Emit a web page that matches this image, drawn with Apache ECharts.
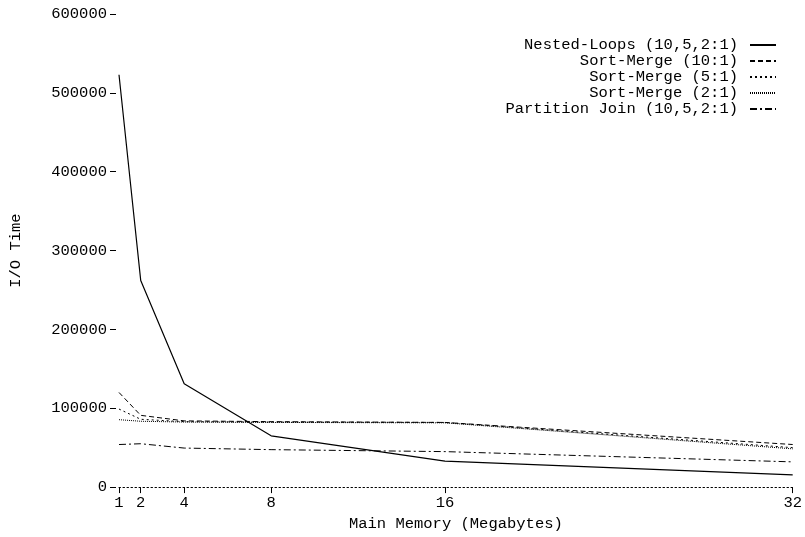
<!DOCTYPE html>
<html>
<head>
<meta charset="utf-8">
<script src="https://cdn.jsdelivr.net/npm/echarts@6/dist/echarts.min.js"></script>
<style>html,body{margin:0;padding:0;background:#fff;}#c{width:805px;height:537px;}</style>
</head>
<body>
<div id="c"></div>
<script>
const memory = [1, 2, 4, 8, 16, 32];
const xTicks = [1, 2, 4, 8, 16, 32];
const seriesNames = ['Nested-Loops (10,5,2:1)', 'Sort-Merge (10:1)', 'Sort-Merge (5:1)', 'Sort-Merge (2:1)', 'Partition Join (10,5,2:1)'];
const nestedLoops = [523000, 262000, 131000, 65000, 33000, 15500];
const sortMerge10 = [120000, 91000, 84000, 83000, 82000, 54000];
const sortMerge5 = [99000, 86000, 83000, 82500, 82000, 50000];
const sortMerge2 = [85500, 83500, 82500, 82000, 81500, 48500];
const partitionJoin = [54000, 55000, 49500, 47500, 45000, 32000];

const values = [nestedLoops, sortMerge10, sortMerge5, sortMerge2, partitionJoin];
const dashes = ['solid', [5, 3], [2, 3], [1, 1], [7, 3, 2, 3]];
const widths = [1.2, 1, 1, 1, 1];
const FONT = 'Liberation Mono';
const FS = 15.5;

const chart = echarts.init(document.getElementById('c'));
chart.setOption({
  animation: false,
  backgroundColor: '#ffffff',
  textStyle: { fontFamily: FONT, color: '#000' },
  grid: { left: 116, right: 8, top: 14, bottom: 43, containLabel: false },
  legend: {
    orient: 'vertical',
    right: 23,
    top: 32,
    align: 'right',
    itemWidth: 26,
    itemHeight: 12,
    itemGap: 0,
    itemStyle: { opacity: 0 },
    textStyle: { fontFamily: FONT, fontSize: FS, color: '#000', padding: [0, 7, 0, 0] },
    data: seriesNames
  },
  xAxis: {
    type: 'value',
    min: 1,
    max: 32,
    name: 'Main Memory (Megabytes)',
    nameLocation: 'middle',
    nameGap: 26,
    nameTextStyle: { fontFamily: FONT, fontSize: FS, color: '#000' },
    axisLine: { show: true, lineStyle: { color: '#000', type: [1.5, 2.5], width: 1 } },
    axisTick: { show: true, length: 6, lineStyle: { color: '#000' }, customValues: xTicks },
    axisLabel: { fontFamily: FONT, fontSize: FS, color: '#000', margin: 8, customValues: xTicks },
    splitLine: { show: false }
  },
  yAxis: {
    type: 'value',
    min: 0,
    max: 600000,
    interval: 100000,
    offset: 3,
    name: 'I/O Time',
    nameLocation: 'middle',
    nameGap: 92,
    nameRotate: 90,
    nameTextStyle: { fontFamily: FONT, fontSize: FS, color: '#000' },
    axisLine: { show: false },
    axisTick: { show: true, length: 6, lineStyle: { color: '#000' } },
    axisLabel: { fontFamily: FONT, fontSize: FS, color: '#000', margin: 9, formatter: v => String(v) },
    splitLine: { show: false }
  },
  series: values.map((v, i) => ({
    name: seriesNames[i],
    type: 'line',
    symbol: 'none',
    data: memory.map((m, j) => [m, v[j]]),
    lineStyle: { color: '#000', width: widths[i], type: dashes[i] },
    itemStyle: { color: '#000' }
  }))
});
</script>
</body>
</html>
